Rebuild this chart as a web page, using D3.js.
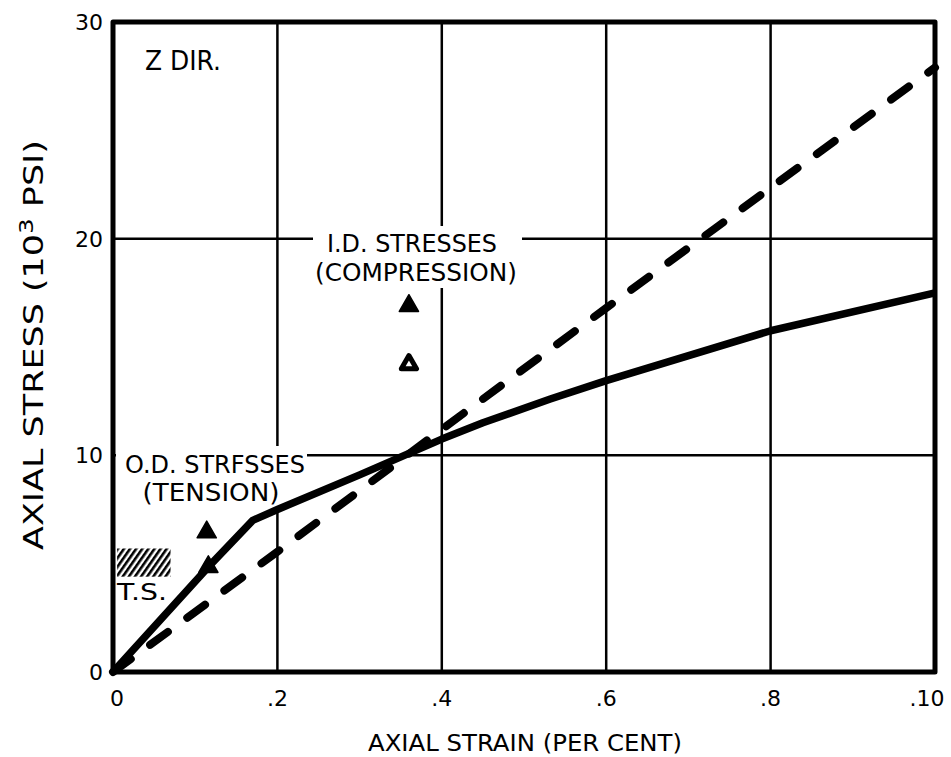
<!DOCTYPE html>
<html><head><meta charset="utf-8">
<script src="https://cdn.jsdelivr.net/npm/d3@7"></script>
<style>body{margin:0;background:#fff}svg{display:block}</style>
</head><body>
<script>
// ---- data ----
const xTicks = [0, 0.2, 0.4, 0.6, 0.8, 1.0];
const xTickLabels = ["0", ".2", ".4", ".6", ".8", ".10"];
const yTicks = [0, 10, 20, 30];
const yTickLabels = ["0", "10", "20", "30"];
const solidStrain = [0, 0.116, 0.17, 0.2, 0.3, 0.4, 0.45, 0.532, 0.6, 0.8, 1.0];
const solidStress = [0, 4.85, 7.0, 7.5, 9.1, 10.75, 11.5, 12.6, 13.45, 15.75, 17.5];
const dashStrain = [0, 0.2, 0.4, 0.6, 0.8, 1.0];
const dashStress = [0, 5.55, 11.2, 16.8, 22.35, 27.9];
const filledTriStrain = [0.114, 0.116, 0.36];
const filledTriStress = [6.45, 4.85, 16.9];
const openTriStrain = [0.36];
const openTriStress = [14.2];
const tsStrain = [0.005, 0.07];
const tsStress = [4.4, 5.7];

const W = 951, H = 757;
const svg = d3.select("body").append("svg").attr("width", W).attr("height", H);
const x = d3.scaleLinear().domain([0, 1]).range([113, 935]);
const y = d3.scaleLinear().domain([0, 30]).range([672, 22]);
const font = "'DejaVu Sans', sans-serif";

const defs = svg.append("defs");
const pat = defs.append("pattern").attr("id", "hatch").attr("patternUnits", "userSpaceOnUse")
  .attr("width", 5).attr("height", 5).attr("patternTransform", "rotate(35)");
pat.append("rect").attr("width", 2.6).attr("height", 5).attr("fill", "#000");

// grid
svg.append("g").selectAll("line").data(xTicks.slice(1, -1)).join("line")
  .attr("x1", d => x(d)).attr("x2", d => x(d)).attr("y1", y(30)).attr("y2", y(0))
  .attr("stroke", "#000").attr("stroke-width", 2.5);
svg.append("g").selectAll("line").data(yTicks.slice(1, -1)).join("line")
  .attr("y1", d => y(d)).attr("y2", d => y(d)).attr("x1", x(0)).attr("x2", x(1))
  .attr("stroke", "#000").attr("stroke-width", 2.5);

// white knock-outs behind labels
svg.append("rect").attr("x", x(0) + 3).attr("y", 446).attr("width", 307 - x(0) - 3).attr("height", 60).attr("fill", "#fff");
svg.append("rect").attr("x", 313).attr("y", 226).attr("width", 209).attr("height", 62).attr("fill", "#fff");

// frame
svg.append("rect").attr("x", x(0)).attr("y", y(30)).attr("width", x(1) - x(0)).attr("height", y(0) - y(30))
  .attr("fill", "none").attr("stroke", "#000").attr("stroke-width", 5).attr("stroke-linejoin", "round");

// T.S. hatched band
svg.append("rect").attr("x", x(tsStrain[0])).attr("y", y(tsStress[1]))
  .attr("width", x(tsStrain[1]) - x(tsStrain[0])).attr("height", y(tsStress[0]) - y(tsStress[1]))
  .attr("fill", "url(#hatch)");

// curves
const line = d3.line().x(d => x(d[0])).y(d => y(d[1]));
svg.append("path").datum(dashStrain.map((v, i) => [v, dashStress[i]]))
  .attr("d", line).attr("fill", "none").attr("stroke", "#000").attr("stroke-width", 8)
  .attr("stroke-dasharray", "22,24").attr("stroke-linecap", "round");
svg.append("path").datum(solidStrain.map((v, i) => [v, solidStress[i]]))
  .attr("d", line).attr("fill", "none").attr("stroke", "#000").attr("stroke-width", 7.5)
  .attr("stroke-linejoin", "round");

// markers
const tri = d3.symbol(d3.symbolTriangle);
svg.append("g").selectAll("path").data(filledTriStrain.map((v, i) => [v, filledTriStress[i]])).join("path")
  .attr("d", tri.size(160)()).attr("transform", d => `translate(${x(d[0])},${y(d[1])})`).attr("fill", "#000")
  .attr("stroke", "#000").attr("stroke-width", 1.5).attr("stroke-linejoin", "round");
svg.append("g").selectAll("path").data(openTriStrain.map((v, i) => [v, openTriStress[i]])).join("path")
  .attr("d", tri.size(100)()).attr("transform", d => `translate(${x(d[0])},${y(d[1])})`)
  .attr("fill", "#fff").attr("stroke", "#000").attr("stroke-width", 5).attr("stroke-linejoin", "round");

// tick labels
svg.append("g").selectAll("text").data(xTicks).join("text")
  .attr("x", (d, i) => x(d) + (i === 0 ? 4 : (i === xTicks.length - 1 ? -8 : 0))).attr("y", 706)
  .attr("text-anchor", "middle").attr("font-family", font).attr("font-size", 22)
  .text((d, i) => xTickLabels[i]);
svg.append("g").selectAll("text").data(yTicks).join("text")
  .attr("x", 103).attr("y", d => y(d) + 8)
  .attr("text-anchor", "end").attr("font-family", font).attr("font-size", 22)
  .text((d, i) => yTickLabels[i]);

// axis titles
svg.append("text").attr("x", 525).attr("y", 751).attr("text-anchor", "middle")
  .attr("font-family", font).attr("font-size", 23).attr("textLength", 314).attr("lengthAdjust", "spacingAndGlyphs")
  .text("AXIAL STRAIN (PER CENT)");
const yt = svg.append("text").attr("transform", "translate(43,345) rotate(-90)").attr("text-anchor", "middle")
  .attr("font-family", font).attr("font-size", 27).attr("textLength", 410).attr("lengthAdjust", "spacingAndGlyphs");
yt.append("tspan").text("AXIAL STRESS (10");
yt.append("tspan").attr("dy", -10).attr("font-size", 19).text("3");
yt.append("tspan").attr("dy", 10).text(" PSI)");

// annotations
function label(t, cx, by, len, fs) {
  svg.append("text").attr("x", cx).attr("y", by).attr("text-anchor", "middle")
    .attr("font-family", font).attr("font-size", fs).attr("textLength", len).attr("lengthAdjust", "spacingAndGlyphs").text(t);
}
label("Z DIR.", 183, 70, 76, 26);
label("I.D. STRESSES", 412, 252, 170, 25);
label("(COMPRESSION)", 416, 281, 202, 25);
label("O.D. STRFSSES", 215, 473, 180, 25);
label("(TENSION)", 211, 501, 137, 25);
label("T.S.", 142, 600, 50, 23);
</script>
</body></html>
